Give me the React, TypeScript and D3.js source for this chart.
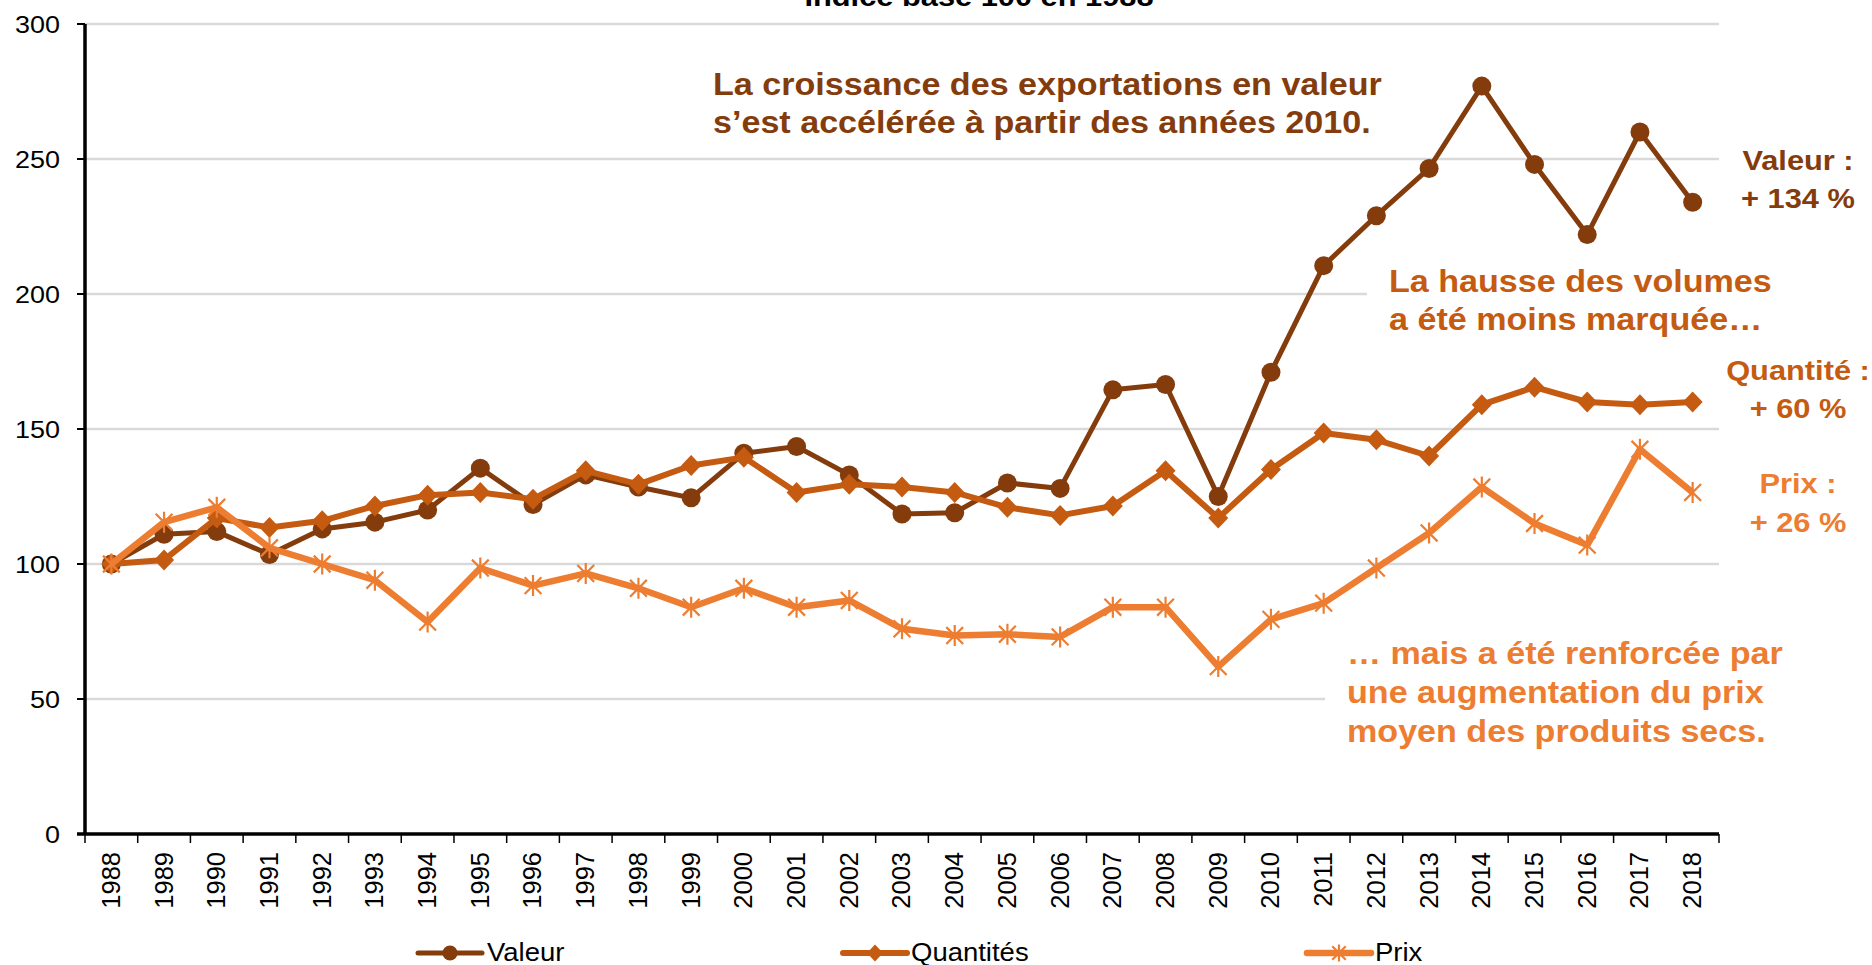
import React from "react";
import * as d3 from "d3";

const years = ["1988","1989","1990","1991","1992","1993","1994","1995","1996","1997","1998","1999","2000","2001","2002","2003","2004","2005","2006","2007","2008","2009","2010","2011","2012","2013","2014","2015","2016","2017","2018"];
const valeur = [100,111,112,103.5,113,115.5,120,135.5,122,133,128.5,124.5,141,143.5,133,118.5,119,130,128,164.5,166.5,125,171,210.5,229,246.5,277,248,222,260,234];
const quantites = [100,101.5,117,113.5,116,121.5,125.5,126.5,124,134.5,129.5,136.5,139.5,126.5,129.5,128.5,126.5,121,118,121.5,134.5,117,135,148.5,146,140,159,165.5,160,159,160];
const prix = [100,115.5,121,106,100,94,78.5,98.5,92,96.5,91,84,91,84,86.5,76,73.5,74,73,84,84,62,79.5,85.5,98.5,111.5,128.5,115,107,142.5,126.5];
const yTicks = [0,50,100,150,200,250,300];
const seriesNames = ["Valeur","Quantités","Prix"];

const C_VAL = "#843C0C";
const C_QTE = "#C55A11";
const C_PRIX = "#ED7D31";
const FONT = "'Liberation Sans', Arial, sans-serif";
const SX = 1.1;

function T({x, y, children, size, fill = "#000", anchor = "start", weight = "normal", sx = SX}: any) {
  return (
    <text transform={`translate(${x},${y}) scale(${sx},1)`} fontFamily={FONT} fontSize={size}
      fill={fill} textAnchor={anchor} fontWeight={weight}>{children}</text>
  );
}

function Marker({kind, cx, cy, color, s = 1}: any) {
  if (kind === "circle") return <circle cx={cx} cy={cy} r={9.5 * s} fill={color} />;
  if (kind === "diamond") {
    const h = 10.5 * s, w = 10 * s;
    return <path d={`M${cx},${cy - h}L${cx + w},${cy}L${cx},${cy + h}L${cx - w},${cy}Z`} fill={color} />;
  }
  const r = 10.5 * s;
  const d = r * 0.8;
  return <path d={`M${cx},${cy - r}L${cx},${cy + r}M${cx - d},${cy - d}L${cx + d},${cy + d}M${cx - d},${cy + d}L${cx + d},${cy - d}`}
    stroke={color} strokeWidth={2.2} fill="none" />;
}

export default function App() {
  const W = 1872, H = 965;
  const left = 85, right = 1719, top = 24, bottom = 834;
  const x = d3.scaleBand<string>().domain(years).range([left, right]).paddingInner(0).paddingOuter(0);
  const y = d3.scaleLinear().domain([0, 300]).range([bottom, top]);
  const cx = (i: number) => (x(years[i]) as number) + x.bandwidth() / 2;
  const line = d3.line<number>().x((_, i) => cx(i)).y(v => y(v));

  const series = [
    { name: seriesNames[0], data: valeur, color: C_VAL, width: 5, marker: "circle" },
    { name: seriesNames[1], data: quantites, color: C_QTE, width: 6, marker: "diamond" },
    { name: seriesNames[2], data: prix, color: C_PRIX, width: 6.5, marker: "star" },
  ];

  const legendPos = [
    { x0: 418, tx: 487 },
    { x0: 843, tx: 911 },
    { x0: 1307, tx: 1375 },
  ];

  return (
    <svg width={W} height={H} style={{ position: "absolute", left: 0, top: 0, background: "#fff" }}>
      <rect x={0} y={0} width={W} height={H} fill="#fff" />
      {/* title (cut at top, as in the reference) */}
      <T x={979} y={6} size={28} anchor="middle" weight="bold">Indice base 100 en 1988</T>

      {/* gridlines */}
      {yTicks.filter(t => t > 0).map(t => (
        <line key={t} x1={left} x2={right} y1={y(t)} y2={y(t)} stroke="#D9D9D9" strokeWidth={2.5} />
      ))}

      {/* white text boxes covering gridlines */}
      <rect x={1367} y={262} width={420} height={85} fill="#fff" />
      <rect x={1325} y={632} width={480} height={125} fill="#fff" />

      {/* y axis */}
      <line x1={left} x2={left} y1={top} y2={bottom} stroke="#000" strokeWidth={3.5} />
      {yTicks.map(t => (
        <g key={t}>
          <line x1={left - 8} x2={left} y1={y(t)} y2={y(t)} stroke="#000" strokeWidth={2} />
          <T x={60} y={y(t) + 8.5} size={24.5} anchor="end">{t}</T>
        </g>
      ))}

      {/* x axis */}
      <line x1={left - 8} x2={right} y1={bottom} y2={bottom} stroke="#000" strokeWidth={3.5} />
      {d3.range(years.length + 1).map(i => {
        const xx = left + i * x.bandwidth();
        return <line key={i} x1={xx} x2={xx} y1={bottom} y2={bottom + 9} stroke="#000" strokeWidth={1.5} />;
      })}
      {years.map((yr, i) => (
        <text key={yr} transform={`translate(${cx(i) - 0.5},852) rotate(-90)`} textAnchor="end" dy="0.35em"
          fontFamily={FONT} fontSize={25.5} fill="#000">{yr}</text>
      ))}

      {/* series */}
      {series.map(s => (
        <g key={s.name}>
          <path d={line(s.data) as string} fill="none" stroke={s.color} strokeWidth={s.width} strokeLinejoin="round" />
          {s.data.map((v, i) => <Marker key={i} kind={s.marker} cx={cx(i)} cy={y(v)} color={s.color} />)}
        </g>
      ))}

      {/* annotations */}
      <T x={713} y={95} size={31} fill={C_VAL} weight="bold">La croissance des exportations en valeur</T>
      <T x={713} y={133} size={31} fill={C_VAL} weight="bold">s’est accélérée à partir des années 2010.</T>

      <T x={1389} y={292} size={31} fill={C_QTE} weight="bold">La hausse des volumes</T>
      <T x={1389} y={330} size={31} fill={C_QTE} weight="bold">a été moins marquée…</T>

      <T x={1347} y={664} size={31} fill={C_PRIX} weight="bold">… mais a été renforcée par</T>
      <T x={1347} y={703} size={31} fill={C_PRIX} weight="bold">une augmentation du prix</T>
      <T x={1347} y={742} size={31} fill={C_PRIX} weight="bold">moyen des produits secs.</T>

      <T x={1798} y={170} size={28} fill={C_VAL} weight="bold" anchor="middle">Valeur :</T>
      <T x={1798} y={208} size={28} fill={C_VAL} weight="bold" anchor="middle">+ 134 %</T>
      <T x={1798} y={380} size={28} fill={C_QTE} weight="bold" anchor="middle">Quantité :</T>
      <T x={1798} y={418} size={28} fill={C_QTE} weight="bold" anchor="middle">+ 60 %</T>
      <T x={1798} y={493} size={28} fill={C_PRIX} weight="bold" anchor="middle">Prix :</T>
      <T x={1798} y={532} size={28} fill={C_PRIX} weight="bold" anchor="middle">+ 26 %</T>

      {/* legend */}
      {series.map((s, i) => (
        <g key={s.name}>
          <line x1={legendPos[i].x0} x2={legendPos[i].x0 + 64} y1={953} y2={953} stroke={s.color} strokeWidth={s.width} strokeLinecap="round" />
          <Marker kind={s.marker} cx={legendPos[i].x0 + 32} cy={953} color={s.color} s={0.8} />
          <T x={legendPos[i].tx} y={961} size={25}>{s.name}</T>
        </g>
      ))}
    </svg>
  );
}
